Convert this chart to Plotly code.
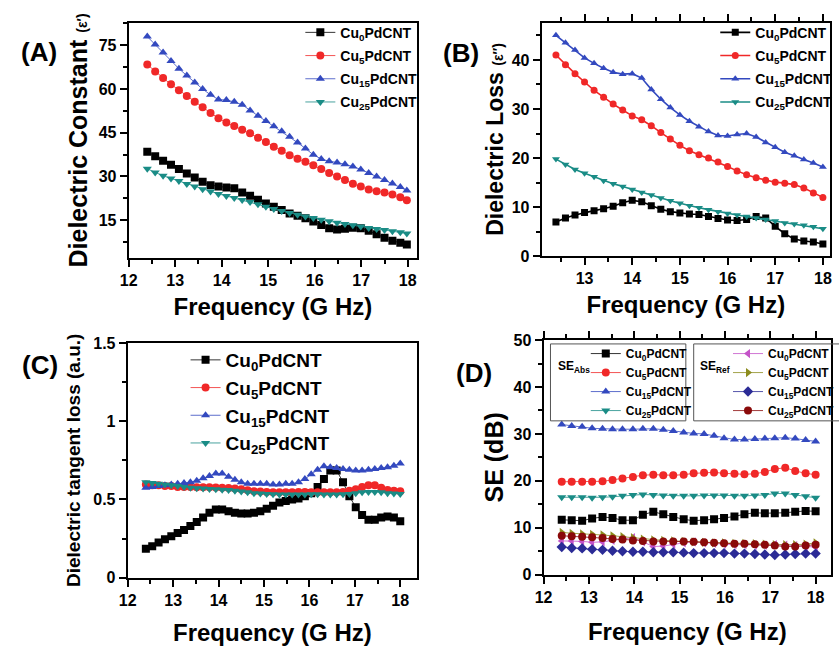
import plotly.graph_objects as go

W, H = 839, 647

# ---------------- data ----------------
freq_A = [12.40, 12.57, 12.74, 12.91, 13.08, 13.25, 13.42, 13.59, 13.76, 13.93,
          14.10, 14.27, 14.44, 14.61, 14.78, 14.95, 15.12, 15.29, 15.46, 15.63,
          15.80, 15.97, 16.14, 16.31, 16.48, 16.65, 16.82, 16.99, 17.16, 17.33,
          17.50, 17.67, 17.84, 17.98]
A_cu0 = [38.5, 36.9, 35.4, 34.0, 32.5, 31.0, 29.6, 28.2, 27.0, 26.5,
         26.2, 25.9, 24.5, 23.4, 22.0, 20.7, 19.6, 18.5, 17.3, 16.5,
         15.6, 14.5, 13.3, 12.2, 11.8, 12.0, 12.4, 12.2, 11.3, 10.1,
         8.9, 7.9, 7.2, 6.6]
A_cu5 = [68.4, 66.0, 63.8, 61.6, 59.6, 57.6, 55.6, 53.7, 51.8, 50.0,
         48.5, 47.3, 46.0, 44.8, 43.3, 41.8, 40.2, 38.8, 37.3, 36.1,
         35.0, 33.8, 32.5, 31.2, 30.0, 28.8, 27.5, 26.5, 25.5, 24.9,
         24.5, 23.8, 22.8, 21.8]
A_cu15 = [78.0, 75.3, 72.5, 69.6, 67.0, 64.6, 62.2, 60.0, 58.0, 56.4,
          56.2, 55.6, 54.6, 52.6, 50.8, 49.0, 47.2, 45.5, 43.6, 41.6,
          39.6, 37.4, 36.0, 35.2, 34.8, 34.2, 33.4, 32.4, 31.2, 30.0,
          28.8, 27.6, 26.4, 25.2]
A_cu25 = [32.6, 31.3, 30.2, 29.3, 28.4, 27.4, 26.5, 25.6, 24.8, 24.0,
          23.3, 22.6, 21.9, 21.2, 20.4, 19.6, 18.8, 18.1, 17.4, 16.8,
          16.2, 15.7, 15.1, 14.6, 14.1, 13.7, 13.2, 12.8, 12.3, 11.9,
          11.6, 11.2, 10.8, 10.4]

freq_B = [12.4, 12.6, 12.8, 13.0, 13.2, 13.4, 13.6, 13.8, 14.0, 14.2,
          14.4, 14.6, 14.8, 15.0, 15.2, 15.4, 15.6, 15.8, 16.0, 16.2,
          16.4, 16.6, 16.8, 17.0, 17.2, 17.4, 17.6, 17.8, 18.0]
B_cu0 = [7.0, 7.8, 8.4, 8.9, 9.3, 9.7, 10.2, 10.9, 11.4, 11.1,
         10.3, 9.6, 9.1, 8.8, 8.6, 8.5, 8.1, 7.7, 7.4, 7.3,
         7.5, 8.1, 7.8, 6.1, 4.6, 3.5, 3.1, 2.9, 2.5]
B_cu5 = [41.0, 39.0, 37.2, 35.5, 33.8, 32.4, 31.0, 29.8, 28.6, 27.8,
         26.6, 25.2, 23.9, 22.6, 21.5, 20.7, 20.0, 19.2, 18.3, 17.4,
         16.6, 16.0, 15.5, 15.1, 14.9, 14.6, 13.9, 12.9, 12.0]
B_cu15 = [45.0, 43.5, 42.0, 40.4, 39.3, 38.3, 37.5, 37.1, 37.2, 36.3,
          34.0, 32.0, 30.3, 28.8, 27.5, 26.4, 25.4, 24.6, 24.5, 24.8,
          25.0, 24.3, 23.2, 22.2, 21.2, 20.5, 19.7, 19.0, 18.2]
B_cu25 = [19.8, 18.7, 17.7, 16.9, 16.2, 15.4, 14.8, 14.2, 13.6, 13.0,
          12.5, 11.9, 11.3, 10.8, 10.3, 9.9, 9.5, 9.1, 8.7, 8.4,
          8.1, 7.8, 7.5, 7.2, 6.8, 6.6, 6.3, 6.0, 5.6]

freq_C = [12.40, 12.54, 12.68, 12.82, 12.96, 13.10, 13.24, 13.38, 13.52, 13.66,
          13.80, 13.94, 14.08, 14.22, 14.36, 14.50, 14.64, 14.78, 14.92, 15.06,
          15.20, 15.34, 15.48, 15.62, 15.76, 15.90, 16.04, 16.18, 16.32, 16.46,
          16.60, 16.74, 16.88, 17.02, 17.16, 17.30, 17.44, 17.58, 17.72, 17.86,
          18.00]
C_cu0 = [0.185, 0.200, 0.225, 0.245, 0.265, 0.285, 0.305, 0.330, 0.355, 0.385,
         0.415, 0.435, 0.435, 0.425, 0.415, 0.410, 0.410, 0.415, 0.425, 0.440,
         0.460, 0.480, 0.490, 0.500, 0.505, 0.520, 0.540, 0.580, 0.630, 0.685,
         0.685, 0.610, 0.520, 0.450, 0.400, 0.370, 0.370, 0.385, 0.390, 0.385,
         0.360]
C_cu5 = [0.595, 0.590, 0.590, 0.585, 0.585, 0.580, 0.580, 0.580, 0.578, 0.578,
         0.577, 0.576, 0.575, 0.573, 0.570, 0.565, 0.558, 0.552, 0.550, 0.548,
         0.545, 0.545, 0.545, 0.545, 0.548, 0.548, 0.546, 0.545, 0.545, 0.545,
         0.545, 0.548, 0.555, 0.565, 0.580, 0.590, 0.590, 0.575, 0.560, 0.555,
         0.552]
C_cu15 = [0.575, 0.580, 0.585, 0.590, 0.595, 0.600, 0.605, 0.610, 0.620, 0.635,
          0.650, 0.665, 0.665, 0.645, 0.625, 0.610, 0.600, 0.600, 0.600, 0.600,
          0.595, 0.595, 0.600, 0.600, 0.610, 0.630, 0.660, 0.690, 0.712, 0.705,
          0.700, 0.695, 0.690, 0.685, 0.685, 0.690, 0.695, 0.700, 0.705, 0.715,
          0.730]
C_cu25 = [0.610, 0.605, 0.600, 0.595, 0.590, 0.585, 0.580, 0.575, 0.572, 0.570,
          0.567, 0.565, 0.562, 0.560, 0.555, 0.550, 0.545, 0.540, 0.537, 0.535,
          0.533, 0.532, 0.532, 0.532, 0.532, 0.532, 0.533, 0.533, 0.532, 0.532,
          0.532, 0.533, 0.535, 0.540, 0.545, 0.548, 0.548, 0.545, 0.540, 0.538,
          0.535]

freq_D = [12.40, 12.62, 12.85, 13.07, 13.30, 13.52, 13.74, 13.97, 14.19, 14.42,
          14.64, 14.86, 15.09, 15.31, 15.54, 15.76, 15.98, 16.21, 16.43, 16.66,
          16.88, 17.10, 17.33, 17.55, 17.78, 18.00]
D_abs_cu0 = [11.7, 11.6, 11.5, 12.0, 12.3, 12.1, 11.6, 11.6, 12.8, 13.4,
             12.9, 12.3, 11.8, 11.5, 11.6, 11.8, 12.1, 12.4, 12.9, 13.2,
             13.1, 13.1, 13.2, 13.4, 13.6, 13.5]
D_abs_cu5 = [19.8, 19.8, 19.8, 19.8, 19.9, 20.2, 20.5, 20.8, 21.2, 21.3,
             21.2, 21.2, 21.3, 21.6, 21.7, 21.8, 21.6, 21.5, 21.4, 21.5,
             21.9, 22.5, 22.8, 22.1, 21.6, 21.3]
D_abs_cu15 = [32.0, 31.7, 31.5, 31.2, 31.1, 31.0, 31.0, 31.0, 31.1, 31.1,
              30.9, 30.6, 30.3, 30.1, 30.0, 29.6, 29.1, 28.8, 28.8, 28.9,
              29.0, 29.1, 29.2, 29.0, 28.7, 28.4]
D_abs_cu25 = [16.5, 16.5, 16.5, 16.4, 16.5, 16.6, 16.8, 17.0, 17.1, 17.0,
              16.9, 16.8, 16.8, 16.8, 16.9, 16.9, 16.9, 16.8, 16.8, 16.9,
              17.0, 17.3, 17.3, 17.0, 16.7, 16.4]
D_ref_cu0 = [7.2, 7.2, 7.1, 6.9, 7.0, 7.3, 7.6, 7.9, 7.0, 6.0,
             6.1, 6.5, 6.8, 7.0, 6.8, 6.7, 6.5, 6.4, 6.4, 6.3,
             6.3, 6.4, 6.3, 6.2, 6.0, 5.9]
D_ref_cu5 = [9.0, 8.8, 8.7, 8.6, 8.5, 8.3, 8.1, 7.9, 7.6, 7.4,
             7.3, 7.2, 7.1, 7.0, 6.9, 6.8, 6.8, 6.7, 6.7, 6.6,
             6.5, 6.4, 6.4, 6.4, 6.5, 6.8]
D_ref_cu15 = [5.9, 5.7, 5.6, 5.4, 5.3, 5.1, 5.0, 4.9, 4.9, 4.8,
              4.8, 4.8, 4.7, 4.6, 4.6, 4.6, 4.6, 4.5, 4.5, 4.4,
              4.3, 4.2, 4.3, 4.4, 4.5, 4.5]
D_ref_cu25 = [8.3, 8.2, 8.1, 8.0, 7.8, 7.6, 7.5, 7.3, 7.2, 7.1,
              7.1, 7.1, 7.1, 7.0, 6.9, 6.8, 6.7, 6.6, 6.6, 6.5,
              6.4, 6.2, 6.0, 6.0, 6.2, 6.4]

names = ["Cu<sub>0</sub>PdCNT", "Cu<sub>5</sub>PdCNT",
         "Cu<sub>15</sub>PdCNT", "Cu<sub>25</sub>PdCNT"]

# ---------------- styles ----------------
BLACK, RED, BLUE, TEAL = "#000000", "#f02828", "#3349bf", "#1a8c86"
MAG, OLIVE, NAVY, DRED = "#c453c8", "#8c8c1e", "#2b2b96", "#8a0a0a"
FONT = "Liberation Sans, Arial, sans-serif"


def px_x(p):
    return p / W


def px_y(p):
    return 1 - p / H


fig = go.Figure()


def add(x, y, name, color, symbol, xa, ya, legend, group, size=8, lw=1.0):
    fig.add_trace(go.Scatter(
        x=x, y=y, name=name, mode="lines+markers",
        line=dict(color=color, width=lw),
        marker=dict(color=color, symbol=symbol, size=size),
        xaxis=xa, yaxis=ya, legend=legend, legendgroup=group))


symbols = ["square", "circle", "triangle-up", "triangle-down"]
cols = [BLACK, RED, BLUE, TEAL]

for i, (s, c, n, yv) in enumerate(zip(symbols, cols, names, [A_cu0, A_cu5, A_cu15, A_cu25])):
    add(freq_A, yv, n, c, s, "x", "y", "legend", f"a{i}", size=8, lw=0.8)
for i, (s, c, n, yv) in enumerate(zip(symbols, cols, names, [B_cu0, B_cu5, B_cu15, B_cu25])):
    add(freq_B, yv, n, c, s, "x2", "y2", "legend2", f"b{i}", size=7, lw=1.6)
for i, (s, c, n, yv) in enumerate(zip(symbols, cols, names, [C_cu0, C_cu5, C_cu15, C_cu25])):
    add(freq_C, yv, n, c, s, "x3", "y3", "legend3", f"c{i}", size=8, lw=0.8)
for i, (s, c, n, yv) in enumerate(zip(symbols, cols, names,
                                      [D_abs_cu0, D_abs_cu5, D_abs_cu15, D_abs_cu25])):
    add(freq_D, yv, n, c, s, "x4", "y4", "legend4", f"d{i}", size=8, lw=0.8)
for i, (s, c, n, yv) in enumerate(zip(["triangle-left", "triangle-right", "diamond", "circle"],
                                      [MAG, OLIVE, NAVY, DRED], names,
                                      [D_ref_cu0, D_ref_cu5, D_ref_cu15, D_ref_cu25])):
    add(freq_D, yv, n, c, s, "x4", "y4", "legend5", f"e{i}", size=8, lw=0.8)

tickfont = dict(family=FONT, size=16, color="black", weight="bold")


def xaxis(domain, rng, anchor, mirror, standoff):
    return dict(domain=domain, range=rng, anchor=anchor, dtick=1, tick0=12,
                ticks="outside", ticklen=7, tickwidth=2, tickcolor="black",
                minor=dict(dtick=0.5, ticks="outside", ticklen=4, tickwidth=1.5,
                           tickcolor="black"),
                showline=True, linewidth=2, linecolor="black", mirror=mirror,
                showgrid=False, zeroline=False, tickfont=tickfont,
                title=dict(text="Frequency (G Hz)", standoff=standoff,
                           font=dict(family=FONT, size=24, color="black",
                                     weight="bold")))


def yaxis(domain, rng, anchor, dtick, mdtick, title, tsize, standoff):
    return dict(domain=domain, range=rng, anchor=anchor, dtick=dtick, tick0=0,
                ticks="outside", ticklen=7, tickwidth=2, tickcolor="black",
                minor=dict(dtick=mdtick, ticks="outside", ticklen=4, tickwidth=1.5,
                           tickcolor="black"),
                showline=True, linewidth=2, linecolor="black", mirror=True,
                showgrid=False, zeroline=False, tickfont=tickfont,
                title=dict(text=title, standoff=standoff,
                           font=dict(family=FONT, size=tsize, color="black",
                                     weight="bold")))


dA_x = [px_x(122), px_x(416)]
dA_y = [px_y(257), px_y(15)]
dB_x = [px_x(543), px_x(837)]
dB_y = [px_y(255), px_y(15)]
dC_x = [px_x(121), px_x(416)]
dC_y = [px_y(585), px_y(344)]
dD_x = [px_x(545), px_x(838)]
dD_y = [px_y(582), px_y(341)]


def legend(xp, yp, size, gap):
    return dict(x=px_x(xp), y=px_y(yp), xanchor="left", yanchor="top",
                bgcolor="rgba(0,0,0,0)", borderwidth=0, itemwidth=30,
                tracegroupgap=gap,
                font=dict(family=FONT, size=size, color="black", weight="bold"))


fig.update_layout(
    width=W, height=H, margin=dict(l=0, r=0, t=0, b=0),
    paper_bgcolor="white", plot_bgcolor="white",
    font=dict(family=FONT, color="black"),
    xaxis=xaxis(dA_x, [12, 18.2], "y", True, 10),
    yaxis=yaxis(dA_y, [1.9, 82.8], "x", 15, 7.5,
                "Dielectric Constant <span style='font-size:14px'>(ε′)</span>",
                25, 4),
    xaxis2=xaxis(dB_x, [12.1, 18.15], "y2", "ticks", 10),
    yaxis2=yaxis(dB_y, [0, 47.6], "x2", 10, 5,
                 "Dielectric Loss <span style='font-size:14px'>(ε″)</span>",
                 23, 2),
    xaxis3=xaxis(dC_x, [12, 18.37], "y3", True, 16),
    yaxis3=yaxis(dC_y, [0, 1.5], "x3", 0.5, 0.25,
                 "Dielectric tangent loss (a.u.)", 19, 8),
    xaxis4=xaxis(dD_x, [12, 18.34], "y4", "ticks", 18),
    yaxis4=yaxis(dD_y, [0, 50], "x4", 10, 5, "SE (dB)", 25, 3),
    legend=legend(297, 9, 14, 2),
    legend2=legend(720, 9, 14, 2),
    legend3=legend(180, 342, 19, 0),
    legend4=legend(588, 340, 12, 0),
    legend5=legend(733, 340, 12, 0),
    showlegend=True,
)

# legend frames in panel D
for x0, x1 in [(552, 690), (698, 850)]:
    fig.add_shape(type="rect", xref="paper", yref="paper",
                  x0=px_x(x0), x1=px_x(x1), y0=px_y(424), y1=px_y(345),
                  line=dict(color="#555555", width=1), fillcolor="rgba(0,0,0,0)")

ann_font = dict(family=FONT, size=12, color="black", weight="bold")
fig.add_annotation(x=px_x(576), y=px_y(369), xref="paper", yref="paper",
                   xanchor="center", yanchor="middle",
                   text="SE<sub>Abs</sub>", showarrow=False, font=ann_font)
fig.add_annotation(x=px_x(720), y=px_y(369), xref="paper", yref="paper",
                   xanchor="center", yanchor="middle",
                   text="SE<sub>Ref</sub>", showarrow=False, font=ann_font)

lab_font = dict(family=FONT, size=26, color="black", weight="bold")
for txt, xp, yp in [("(A)", 31, 45), ("(B)", 461, 46), ("(C)", 32, 367), ("(D)", 474, 375)]:
    fig.add_annotation(x=px_x(xp), y=px_y(yp), xref="paper", yref="paper",
                       xanchor="center", yanchor="middle",
                       text=txt, showarrow=False, font=lab_font)

fig.write_html("out.html")
